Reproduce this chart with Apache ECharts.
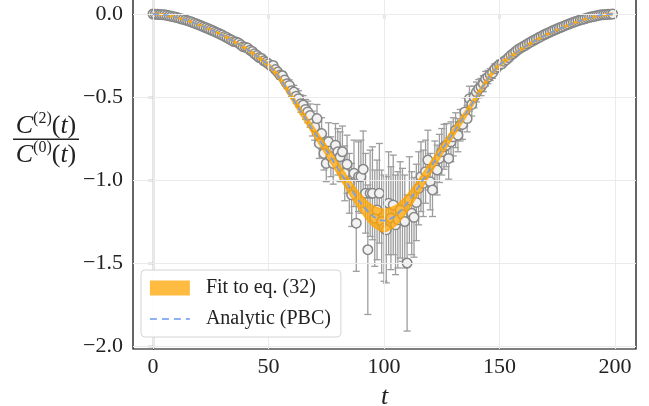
<!DOCTYPE html>
<html><head><meta charset="utf-8">
<script src="https://cdn.jsdelivr.net/npm/echarts@6/dist/echarts.min.js"></script>
<style>html,body{margin:0;padding:0;background:#fff}#c{width:649px;height:406px}</style>
</head><body><div id="c"></div><script>
const tValues = [0,1,2,3,4,5,6,7,8,9,10,11,12,13,14,15,16,17,18,19,20,21,22,23,24,25,26,27,28,29,30,31,32,33,34,35,36,37,38,39,40,41,42,43,44,45,46,47,48,49,50,51,52,53,54,55,56,57,58,59,60,61,62,63,64,65,66,67,68,69,70,71,72,73,74,75,76,77,78,79,80,81,82,83,84,85,86,87,88,89,90,91,92,93,94,95,96,97,98,99,100,101,102,103,104,105,106,107,108,109,110,111,112,113,114,115,116,117,118,119,120,121,122,123,124,125,126,127,128,129,130,131,132,133,134,135,136,137,138,139,140,141,142,143,144,145,146,147,148,149,150,151,152,153,154,155,156,157,158,159,160,161,162,163,164,165,166,167,168,169,170,171,172,173,174,175,176,177,178,179,180,181,182,183,184,185,186,187,188,189,190,191,192,193,194,195,196,197,198,199];
const meanValues = [
 0.000,-0.001,-0.002,-0.003,-0.004,-0.005,-0.008,-0.011,-0.014,-0.017,
 -0.020,-0.024,-0.028,-0.032,-0.036,-0.040,-0.045,-0.050,-0.055,-0.061,
 -0.066,-0.072,-0.078,-0.083,-0.089,-0.095,-0.101,-0.108,-0.114,-0.121,
 -0.127,-0.135,-0.142,-0.150,-0.157,-0.166,-0.168,-0.174,-0.186,-0.197,
 -0.200,-0.205,-0.218,-0.226,-0.240,-0.250,-0.262,-0.268,-0.282,-0.290,
 -0.300,-0.312,-0.310,-0.335,-0.350,-0.368,-0.372,-0.398,-0.420,-0.430,
 -0.462,-0.470,-0.495,-0.510,-0.540,-0.548,-0.575,-0.590,-0.612,-0.660,
 -0.680,-0.630,-0.780,-0.720,-0.840,-0.900,-0.770,-0.860,-0.900,-0.790,
 -0.830,-0.860,-0.830,-0.960,-0.905,-1.020,-1.090,-0.960,-1.260,-0.980,
 -0.980,-0.935,-1.080,-1.420,-1.080,-1.080,-1.230,-1.180,-1.080,-1.250,
 -1.290,-1.300,-1.140,-1.230,-1.150,-1.270,-1.240,-1.180,-1.210,-1.250,
 -1.500,-1.120,-1.200,-1.225,-1.135,-1.050,-0.980,-1.020,-0.950,-0.880,
 -1.010,-1.060,-0.920,-0.940,-0.870,-0.830,-0.800,-0.790,-0.870,-0.770,
 -0.740,-0.700,-0.730,-0.670,-0.665,-0.590,-0.630,-0.510,-0.545,-0.500,
 -0.470,-0.450,-0.440,-0.420,-0.390,-0.380,-0.365,-0.355,-0.330,-0.320,
 -0.305,-0.300,-0.285,-0.275,-0.262,-0.248,-0.238,-0.226,-0.214,-0.206,
 -0.198,-0.190,-0.181,-0.173,-0.165,-0.157,-0.150,-0.142,-0.135,-0.127,
 -0.121,-0.114,-0.108,-0.101,-0.095,-0.089,-0.083,-0.078,-0.072,-0.066,
 -0.061,-0.055,-0.050,-0.045,-0.040,-0.036,-0.032,-0.028,-0.024,-0.020,
 -0.017,-0.014,-0.011,-0.008,-0.005,-0.004,-0.003,-0.002,-0.001,0.000];
const errValues = [
 0.000,0.001,0.001,0.001,0.001,0.001,0.001,0.002,0.002,0.002,
 0.002,0.002,0.003,0.003,0.003,0.003,0.003,0.004,0.004,0.004,
 0.004,0.004,0.005,0.005,0.005,0.005,0.005,0.006,0.006,0.006,
 0.006,0.006,0.007,0.007,0.007,0.007,0.008,0.008,0.008,0.009,
 0.009,0.010,0.010,0.011,0.011,0.012,0.013,0.013,0.014,0.015,
 0.016,0.017,0.018,0.020,0.022,0.024,0.026,0.028,0.030,0.033,
 0.036,0.040,0.044,0.048,0.052,0.056,0.060,0.065,0.070,0.075,
 0.080,0.085,0.090,0.095,0.100,0.110,0.115,0.120,0.125,0.130,
 0.140,0.150,0.155,0.165,0.175,0.180,0.190,0.200,0.290,0.210,
 0.220,0.230,0.240,0.390,0.260,0.280,0.290,0.300,0.300,0.310,
 0.320,0.320,0.310,0.310,0.300,0.300,0.290,0.290,0.280,0.280,
 0.410,0.260,0.250,0.240,0.230,0.220,0.210,0.200,0.190,0.180,
 0.170,0.160,0.155,0.150,0.145,0.140,0.135,0.130,0.125,0.120,
 0.115,0.105,0.100,0.095,0.090,0.085,0.080,0.075,0.070,0.065,
 0.060,0.055,0.052,0.048,0.044,0.040,0.036,0.033,0.030,0.028,
 0.026,0.024,0.022,0.020,0.018,0.016,0.015,0.014,0.013,0.012,
 0.011,0.010,0.009,0.009,0.008,0.008,0.008,0.007,0.007,0.007,
 0.007,0.006,0.006,0.006,0.006,0.005,0.005,0.005,0.005,0.005,
 0.004,0.004,0.004,0.004,0.003,0.003,0.003,0.003,0.003,0.002,
 0.002,0.002,0.002,0.002,0.001,0.001,0.001,0.001,0.001,0.000];
const fitT = [0,5,10,15,20,25,30,35,40,45,50,55,60,65,70,75,80,85,90,95,100,105,110,115,120,125,130,135,140,145,150,155,160,165,170,175,180,185,190,195,199];
const analyticValues = [0.000,-0.005,-0.020,-0.040,-0.066,-0.095,-0.127,-0.165,-0.206,-0.255,-0.307,-0.390,-0.500,-0.610,-0.715,-0.820,-0.930,-1.040,-1.140,-1.215,-1.245,-1.215,-1.140,-1.040,-0.930,-0.820,-0.715,-0.610,-0.500,-0.390,-0.307,-0.255,-0.206,-0.165,-0.127,-0.095,-0.066,-0.040,-0.020,-0.005,0.000];
const fitLow = [-0.004,-0.009,-0.024,-0.044,-0.070,-0.099,-0.132,-0.171,-0.213,-0.263,-0.317,-0.403,-0.516,-0.630,-0.739,-0.849,-0.965,-1.082,-1.190,-1.275,-1.313,-1.275,-1.190,-1.082,-0.965,-0.849,-0.739,-0.630,-0.516,-0.403,-0.317,-0.263,-0.213,-0.171,-0.132,-0.099,-0.070,-0.044,-0.024,-0.009,-0.004];
const fitHigh = [0.004,-0.001,-0.016,-0.036,-0.062,-0.091,-0.122,-0.159,-0.199,-0.247,-0.297,-0.377,-0.484,-0.590,-0.691,-0.791,-0.895,-0.998,-1.090,-1.155,-1.177,-1.155,-1.090,-0.998,-0.895,-0.791,-0.691,-0.590,-0.484,-0.377,-0.297,-0.247,-0.199,-0.159,-0.122,-0.091,-0.062,-0.036,-0.016,-0.001,0.004];
const xTicks = [0,50,100,150,200];
const yTicks = [0,-0.5,-1,-1.5,-2];

const FONT = 'Liberation Serif';
const chart = echarts.init(document.getElementById('c'));
const gridLines = xTicks.map(v=>({xAxis:v})).concat(yTicks.map(v=>({yAxis:v})));
const bandColor = 'rgba(255,165,0,0.75)';
const blue = '#7ba0e8';
const fracRich = {c:{fontFamily:FONT,fontSize:26,fontStyle:'italic',lineHeight:28,verticalAlign:'bottom'},
                  n:{fontFamily:FONT,fontSize:26,lineHeight:28,verticalAlign:'bottom'},
                  s:{fontFamily:FONT,fontSize:16,lineHeight:16,verticalAlign:'top'}};
chart.setOption({
  animation:false,
  backgroundColor:'#fff',
  grid:{left:133,right:13,top:-4,bottom:57,outerBoundsMode:'none',containLabel:false,
    show:true,borderColor:'#000',borderWidth:1.2,backgroundColor:'transparent'},
  xAxis:{type:'value',min:-8.66,max:209.1,
    axisLine:{show:true,lineStyle:{color:'#000',width:1.2}},
    axisTick:{show:true,length:5,inside:false,customValues:xTicks,lineStyle:{color:'#000',width:1.2}},
    axisLabel:{customValues:xTicks,margin:7,fontFamily:FONT,fontSize:22,color:'#222'},
    splitLine:{show:false},
    name:'t',nameLocation:'middle',nameGap:35,
    nameTextStyle:{fontFamily:FONT,fontSize:26,fontStyle:'italic',color:'#222'}},
  yAxis:{type:'value',min:-2.018,max:0.1084,
    axisLine:{show:true,lineStyle:{color:'#000',width:1.2}},
    axisTick:{show:true,length:5,inside:false,customValues:yTicks,lineStyle:{color:'#000',width:1.2}},
    axisLabel:{customValues:yTicks,margin:10,fontFamily:FONT,fontSize:22,color:'#222',
      formatter:v=> v===0 ? '0.0' : (v<0?'\u2212':'')+Math.abs(v).toFixed(1)},
    splitLine:{show:false}},
  legend:{
    left:141,top:270,orient:'vertical',z:20,
    padding:[7,10,7,8],itemGap:9,itemWidth:40,itemHeight:15,
    backgroundColor:'rgba(255,255,255,0.92)',borderColor:'#d4d4d4',borderWidth:1,borderRadius:4,
    textStyle:{fontFamily:FONT,fontSize:20,color:'#222',lineHeight:22,padding:[0,0,0,11]},
    data:[{name:'Fit to eq. (32)',icon:'rect',itemStyle:{color:bandColor}},
          {name:'Analytic (PBC)',itemStyle:{opacity:0},lineStyle:{color:'#8fb1f0',width:1.8,type:[7,5]}}]
  },
  graphic:[
    {type:'text',x:46,y:125,style:{
      text:'{c|C}{s|(2)}{n|(}{c|t}{n|)}',textAlign:'center',textVerticalAlign:'middle',fill:'#222',rich:fracRich}},
    {type:'rect',shape:{x:13,y:138.5,width:66,height:1.6},style:{fill:'#222'}},
    {type:'text',x:46,y:154,style:{
      text:'{c|C}{s|(0)}{n|(}{c|t}{n|)}',textAlign:'center',textVerticalAlign:'middle',fill:'#222',rich:fracRich}}
  ],
  series:[
    {type:'line',name:'grid',data:[],silent:true,z:0,
      markLine:{silent:true,symbol:'none',label:{show:false},animation:false,
        lineStyle:{color:'#ebebeb',width:1,type:'solid'},data:gridLines}},
    {type:'custom',name:'errorbars',z:2,silent:true,
      data:meanValues.map((v,i)=>[tValues[i],v,errValues[i]]),
      encode:{x:0,y:1},
      renderItem:function(params,api){
        const t=api.value(0),v=api.value(1),e=api.value(2);
        const hi=api.coord([t,v+e]),lo=api.coord([t,v-e]);
        const w=3.5, st={stroke:'#9d9d9d',lineWidth:1.3};
        return {type:'group',children:[
          {type:'line',shape:{x1:hi[0],y1:hi[1],x2:lo[0],y2:lo[1]},style:st},
          {type:'line',shape:{x1:hi[0]-w,y1:hi[1],x2:hi[0]+w,y2:hi[1]},style:st},
          {type:'line',shape:{x1:lo[0]-w,y1:lo[1],x2:lo[0]+w,y2:lo[1]},style:st}
        ]};
      }},
    {type:'scatter',name:'data',z:3,silent:true,
      data:meanValues.map((v,i)=>[tValues[i],v]),
      symbol:'circle',symbolSize:9.5,
      itemStyle:{color:'#f2f2f2',borderColor:'#868686',borderWidth:1.5,opacity:1}},
    {type:'custom',name:'Fit to eq. (32)',z:4,silent:true,
      itemStyle:{color:bandColor},
      data:fitT.map((t,i)=>[t,fitLow[i],fitHigh[i]]),
      encode:{x:0,y:[1,2]},
      renderItem:function(params,api){
        if(params.dataIndex!==0) return null;
        const pts=[];
        for(let i=0;i<fitT.length;i++) pts.push(api.coord([fitT[i],fitHigh[i]]));
        for(let i=fitT.length-1;i>=0;i--) pts.push(api.coord([fitT[i],fitLow[i]]));
        return {type:'polygon',shape:{points:pts,smooth:0.2},style:{fill:bandColor,stroke:bandColor,lineWidth:1.5}};
      }},
    {type:'line',name:'Analytic (PBC)',z:5,silent:true,
      data:fitT.map((t,i)=>[t,analyticValues[i]]),
      smooth:0.3,symbol:'none',showSymbol:false,
      itemStyle:{color:blue},
      lineStyle:{color:blue,width:1.8,type:[6,4]}}
  ]
});
</script></body></html>
